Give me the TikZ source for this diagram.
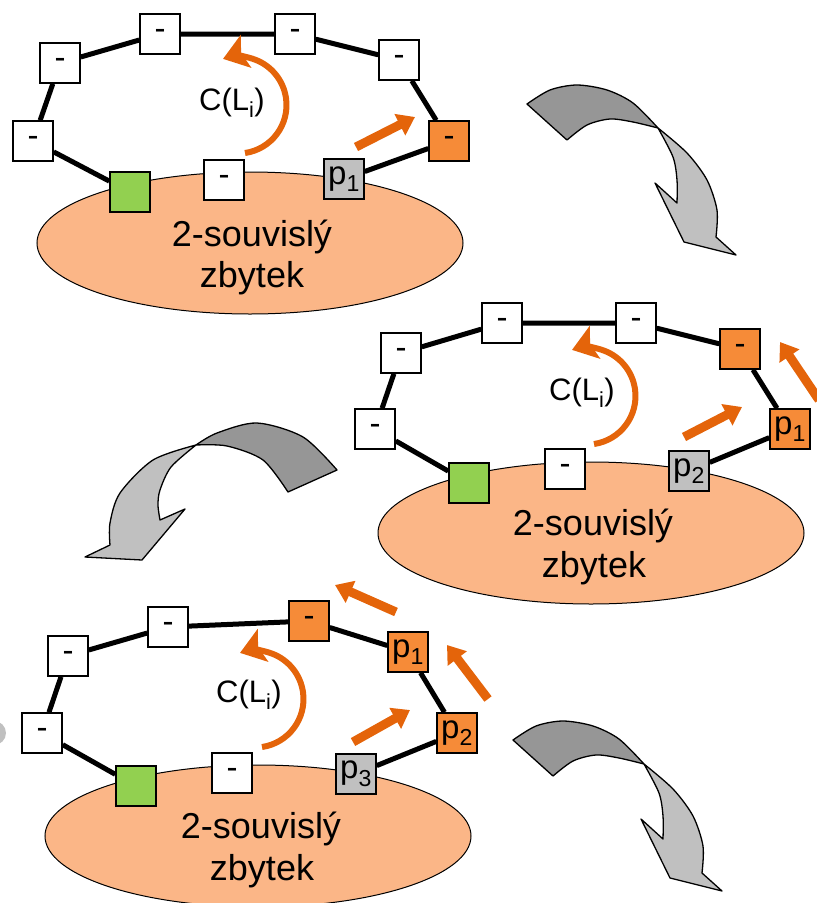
\documentclass[tikz,border=0pt]{standalone}
\usepackage{fontspec}
\setmainfont{Liberation Sans}
\usetikzlibrary{arrows.meta,shapes.geometric}
\definecolor{boxorange}{RGB}{246,139,56}
\definecolor{boxgray}{RGB}{192,192,192}
\definecolor{boxgreen}{RGB}{146,208,80}
\definecolor{blobfill}{RGB}{251,182,135}
\definecolor{arrorange}{RGB}{228,100,10}
\definecolor{bigdark}{RGB}{150,150,150}
\definecolor{biglight}{RGB}{192,192,192}
\tikzset{
  ring/.style={line width=5pt},
  vbox/.style={draw, line width=1.5pt, minimum size=40pt, inner sep=0pt, fill=white,
    font=\fontsize{33}{33}\selectfont},
  obox/.style={vbox, fill=boxorange},
  gbox/.style={vbox, fill=boxgray},
  grbox/.style={vbox, fill=boxgreen},
  blob/.style={ellipse, draw, line width=1pt, fill=blobfill, minimum width=426pt,
    minimum height=142pt, inner sep=0pt},
  blobtext/.style={anchor=base, font=\fontsize{36}{41}\selectfont},
  cyctext/.style={font=\fontsize{31}{31}\selectfont},
  cyc/.style={draw=arrorange, line width=6pt, -{Stealth[length=24pt,width=34pt,inset=5pt]}},
  push/.style={draw=arrorange, line width=9pt, -{Triangle[length=17pt,width=23pt]}},
  bigd/.style={fill=bigdark, draw=black, line width=1.3pt, line join=round},
  bigl/.style={fill=biglight, draw=black, line width=1.3pt, line join=round},
}
\begin{document}
\begin{tikzpicture}[x=1pt,y=-1pt]
\useasboundingbox (0,0) rectangle (817,903);
\clip (0,0) rectangle (817,903);

% small gray mark at left edge
\fill[boxgray] (-6,733) circle (12);

% ================= Panel 1 =================
\node[blob] (e1) at (250,243) {};
\node[blobtext] (t1a) at (252,246) {2-souvislý};
\node[blobtext] (t1b) at (252,287) {zbytek};
\node[vbox] (A1) at (33,141) {-};
\node[vbox] (A2) at (60,63) {-};
\node[vbox] (A3) at (160,34) {-};
\node[vbox] (A4) at (295,34) {-};
\node[vbox] (A5) at (399,60) {-};
\node[obox] (A6) at (449,141) {-};
\node[gbox] (A7) at (344,179) {p\textsubscript{1}};
\node[vbox] (A8) at (224,180) {-};
\node[grbox] (A9) at (130,192) {};
\draw[ring] (A9) -- (A1) -- (A2) -- (A3) -- (A4) -- (A5) -- (A6) -- (A7);
\node[vbox] at (A1) {-};
\node[vbox] at (A2) {-};
\node[vbox] at (A3) {-};
\node[vbox] at (A4) {-};
\node[vbox] at (A5) {-};
\node[obox] at (A6) {-};
\node[gbox] at (A7) {p\textsubscript{1}};
\node[grbox] at (A9) {};
\node[cyctext] (c1) at (232,103) {C(L\textsubscript{i})};
\coordinate (c1s) at (245,153);
\draw[cyc] (c1s) arc[start angle=81.7, end angle=-108, radius=48.5];
\coordinate (p1s) at (356,147);
\coordinate (p1e) at (415,117);
\draw[push] (p1s) -- (p1e);

% big gray arrow 1 (and same shape for panel 3)
\foreach \dx/\dy in {0/0,-14/636}{
\begin{scope}[shift={(\dx,\dy)}]
\draw[bigd] plot[smooth] coordinates {(527,104) (550,90) (577,85) (607,90) (633,103) (658,128)}
  -- plot[smooth] coordinates {(658,128) (633,122) (610,119) (587,125) (567,140)} -- cycle;
\draw[bigl] plot[smooth] coordinates {(658,128) (687,153) (707,180) (717,210) (716,237)}
  -- (736,255) -- (684,242) -- (655,183) -- (677,203)
  -- plot[smooth] coordinates {(677,203) (677,180) (673,157) (658,128)} -- cycle;
\end{scope}}

% ================= Panel 2 =================
\node[blob] (e2) at (591,533) {};
\node[blobtext] (t2a) at (593,535) {2-souvislý};
\node[blobtext] (t2b) at (594,577) {zbytek};
\node[vbox] (B1) at (375,429) {-};
\node[vbox] (B2) at (401,353) {-};
\node[vbox] (B3) at (502,323) {-};
\node[vbox] (B4) at (636,323) {-};
\node[obox] (B5) at (740,349) {-};
\node[obox] (B6) at (790,429) {p\textsubscript{1}};
\node[gbox] (B7) at (689,471) {p\textsubscript{2}};
\node[vbox] (B8) at (565,469) {-};
\node[grbox] (B9) at (469,483) {};
\draw[ring] (B9) -- (B1) -- (B2) -- (B3) -- (B4) -- (B5) -- (B6) -- (B7);
\node[vbox] at (B1) {-};
\node[vbox] at (B2) {-};
\node[vbox] at (B3) {-};
\node[vbox] at (B4) {-};
\node[obox] at (B5) {-};
\node[obox] at (B6) {p\textsubscript{1}};
\node[gbox] at (B7) {p\textsubscript{2}};
\node[grbox] at (B9) {};
\node[cyctext] (c2) at (582,393) {C(L\textsubscript{i})};
\coordinate (c2s) at (594,444);
\draw[cyc] (c2s) arc[start angle=81.7, end angle=-108, radius=48.5];
\coordinate (q1s) at (684,437);
\coordinate (q1e) at (742,407);
\draw[push] (q1s) -- (q1e);
\coordinate (q2s) at (819,400);
\coordinate (q2e) at (780,342);
\draw[push] (q2s) -- (q2e);

% big gray arrow 2
\draw[bigd] plot[smooth] coordinates {(337,470) (303,437) (257,423) (217,433) (196,445)}
  -- plot[smooth] coordinates {(196,445) (227,446) (263,460) (288,492)} -- cycle;
\draw[bigl] plot[smooth] coordinates {(196,445) (153,460) (120,493) (110,523) (110,545)}
  -- (85,557) -- (142,560) -- (185,509) -- (160,520)
  -- plot[smooth] coordinates {(160,520) (158,505) (160,490) (171,467) (196,445)} -- cycle;

% ================= Panel 3 =================
\node[blob] (e3) at (258,836) {};
\node[blobtext] (t3a) at (261,838) {2-souvislý};
\node[blobtext] (t3b) at (262,880) {zbytek};
\node[vbox] (C1) at (42,733) {-};
\node[vbox] (C2) at (68,656) {-};
\node[vbox] (C3) at (168,627) {-};
\node[obox] (C4) at (309,621) {-};
\node[obox] (C5) at (408,652) {p\textsubscript{1}};
\node[obox] (C6) at (457,733) {p\textsubscript{2}};
\node[gbox] (C7) at (356,774) {p\textsubscript{3}};
\node[vbox] (C8) at (232,773) {-};
\node[grbox] (C9) at (136,786) {};
\draw[ring] (C9) -- (C1) -- (C2) -- (C3) -- (C4) -- (C5) -- (C6) -- (C7);
\node[vbox] at (C1) {-};
\node[vbox] at (C2) {-};
\node[vbox] at (C3) {-};
\node[obox] at (C4) {-};
\node[obox] at (C5) {p\textsubscript{1}};
\node[obox] at (C6) {p\textsubscript{2}};
\node[gbox] at (C7) {p\textsubscript{3}};
\node[grbox] at (C9) {};
\node[cyctext] (c3) at (249,695) {C(L\textsubscript{i})};
\coordinate (c3s) at (262,747);
\draw[cyc] (c3s) arc[start angle=81.7, end angle=-108, radius=48.5];
\coordinate (r1s) at (353,742);
\coordinate (r1e) at (410,710);
\draw[push] (r1s) -- (r1e);
\coordinate (r2s) at (488,699);
\coordinate (r2e) at (447,645);
\draw[push] (r2s) -- (r2e);
\coordinate (r3s) at (396,612);
\coordinate (r3e) at (335,585);
\draw[push] (r3s) -- (r3e);
\end{tikzpicture}
\end{document}
